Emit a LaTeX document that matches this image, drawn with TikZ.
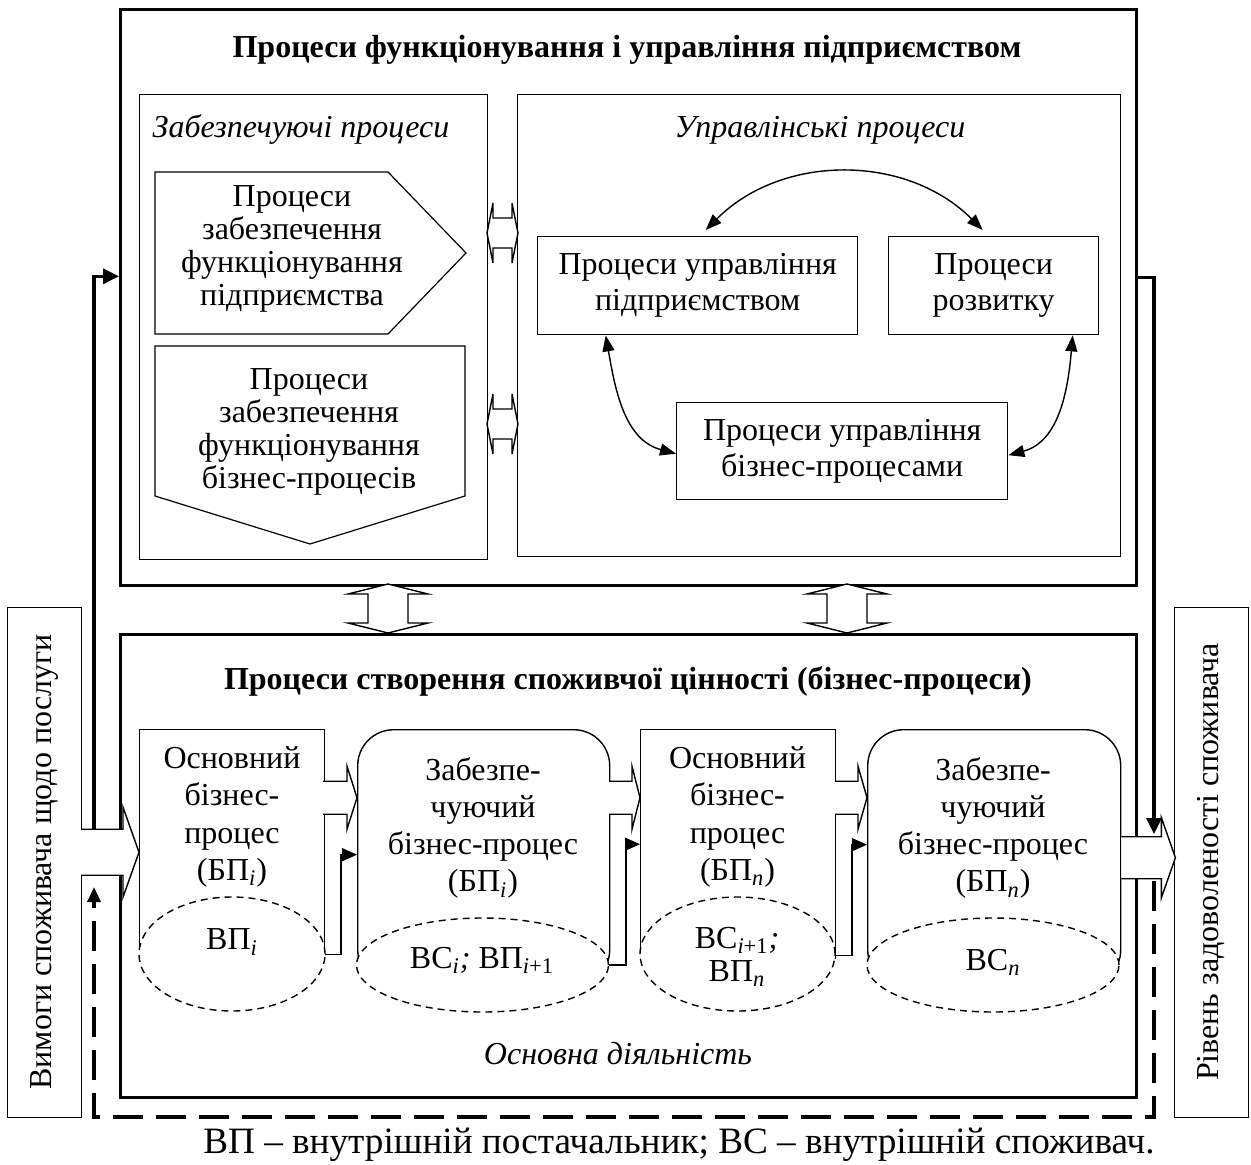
\documentclass[tikz,border=0pt]{standalone}
\usepackage{fontspec}
\setmainfont{Liberation Serif}
\usetikzlibrary{arrows.meta}
\usetikzlibrary{shapes.geometric}

\tikzset{
  outer/.style={draw,line width=1.3pt,inner sep=0pt,anchor=north west},
  pane/.style={draw,line width=.6pt,inner sep=0pt,anchor=north west},
  box/.style={draw,fill=white,line width=.7pt,inner sep=0pt,anchor=north west,
    align=center,font=\fontsize{16}{18}\selectfont},
  oval/.style={draw,fill=white,ellipse,dash pattern=on 3.5pt off 2.5pt,line width=.7pt,inner sep=0pt},
  shp/.style={draw,line width=.6pt},
  txt/.style={align=center,inner sep=0pt,font=\fontsize{16}{18.6}\selectfont},
  ttl/.style={inner sep=0pt,font=\fontsize{16}{19}\selectfont\bfseries},
  ital/.style={inner sep=0pt,font=\fontsize{16}{19}\selectfont\itshape},
  link/.style={line width=.7pt,-{Triangle[length=7.5pt,width=6.5pt]}},
  bidir/.style={line width=.7pt,{Triangle[length=8pt,width=6pt]}-{Triangle[length=8pt,width=6pt]}},
  thickln/.style={line width=1.6pt,-{Triangle[length=8pt,width=7.5pt]}},
  fb/.style={line width=1.6pt,dash pattern=on 15pt off 6.5pt,-{Triangle[length=7.5pt,width=6.5pt]}},
  pics/fat/.style n args={4}{code={
    \draw[fill=white,line width=.7pt] (-#1,-#4) -- (-#2,-#4) -- (-#2,-#3) -- (0,0)
      -- (-#2,#3) -- (-#2,#4) -- (-#1,#4);}},
  pics/dbl/.style n args={4}{code={
    \draw[fill=white,line width=.7pt] (-#1,0) -- (-#1+#2,#3) -- (-#1+#2,#4) -- (#1-#2,#4)
      -- (#1-#2,#3) -- (#1,0) -- (#1-#2,-#3) -- (#1-#2,-#4) -- (-#1+#2,-#4)
      -- (-#1+#2,-#3) -- cycle;}}
}

\begin{document}
\begin{tikzpicture}[x=.5pt,y=-.5pt]
    \useasboundingbox (0,0) rectangle (1251,1165);
    % upper block
    \node[outer,minimum width=508pt,minimum height=288pt] (top) at (119,8) {};
    \node[ttl] (topT) at (627,50) {Процеси функціонування і управління підприємством};
    \node[pane,minimum width=174pt,minimum height=232.5pt] (supp) at (139,94) {};
    \node[pane,minimum width=301.5pt,minimum height=231pt] (mgmt) at (517,94) {};
    \node[ital] (suppT) at (301,130) {Забезпечуючі процеси};
    \node[ital] (mgmtT) at (820,130) {Управлінські процеси};
    %%
    \draw[shp] (155,172) -- (388,172) -- (466,253) -- (388,334) -- (155,334) -- cycle;
    \node[txt,font=\fontsize{16}{16.6}\selectfont] (sA) at (292,249)
      {Процеси\\забезпечення\\функціонування\\підприємства};
    \draw[shp] (155,346) -- (465,346) -- (465,496) -- (310,544) -- (155,496) -- cycle;
    \node[txt,font=\fontsize{16}{16.6}\selectfont] (sB) at (309,432)
      {Процеси\\забезпечення\\функціонування\\бізнес-процесів};
    \pic at (502.5,233) {dbl={15.5}{6}{30}{15}};
    \pic at (502.5,424) {dbl={15.5}{6}{30}{15}};
    %%
    \node[box,minimum width=160pt,minimum height=49pt] (mE) at (537,236) {Процеси управління\\підприємством};
    \node[box,minimum width=105pt,minimum height=49pt] (mD) at (888,236) {Процеси\\розвитку};
    \node[box,minimum width=165.5pt,minimum height=48.5pt] (mB) at (676,402) {Процеси управління\\бізнес-процесами};
    \draw[bidir] ([xshift=4pt,yshift=3pt]mE.north) to[bend left=45] ([xshift=-5.5pt,yshift=3pt]mD.north);
    \draw[bidir] ([xshift=-46pt]mE.south) to[out=-80,in=165] ([yshift=-1.25pt]mB.west);
    \draw[bidir] ([xshift=39.5pt]mD.south) to[out=-95,in=15] ([yshift=-2pt]mB.east);
    %%
    % lower block
    \node[outer,minimum width=508pt,minimum height=231.5pt] (bot) at (119,633) {};
    \pic[rotate=90] at (388,608.5) {dbl={24.5}{10}{40}{20}};
    \pic[rotate=90] at (847,608.5) {dbl={24.5}{10}{40}{20}};
    \node[ttl] (botT) at (628,681) {Процеси створення споживчої цінності (бізнес-процеси)};
    \node[ital] (actT) at (618,1054) {Основна діяльність};
    %%
    \node[box,minimum width=92.5pt,minimum height=114.5pt] (p1) at (139,729) {};
    \node[box,rounded corners=18pt,minimum width=126pt,minimum height=128pt] (p2) at (357,729) {};
    \node[box,minimum width=97.5pt,minimum height=114.5pt] (p3) at (640,729) {};
    \node[box,rounded corners=18pt,minimum width=126.5pt,minimum height=128pt] (p4) at (867,729) {};
    \node[oval,minimum width=93pt,minimum height=57pt] (e1) at (232,954) {};
    \node[oval,minimum width=126pt,minimum height=47pt] (e2) at (482.5,965) {};
    \node[oval,minimum width=97.5pt,minimum height=57pt] (e3) at (737.5,954) {};
    \node[oval,minimum width=126pt,minimum height=47pt] (e4) at (993,965) {};
    \node[txt] (t1) at (232,817) {Основний\\бізнес-\\процес\\(БП\textsubscript{\textit{i}})};
    \node[txt] (t2) at (483,828) {Забезпе-\\чуючий\\бізнес-процес\\(БП\textsubscript{\textit{i}})};
    \node[txt] (t3) at (737.5,817) {Основний\\бізнес-\\процес\\(БП\textsubscript{\textit{n}})};
    \node[txt] (t4) at (993,828) {Забезпе-\\чуючий\\бізнес-процес\\(БП\textsubscript{\textit{n}})};
    \node[txt] (v1) at (232,942) {ВП\textsubscript{\textit{i}}};
    \node[txt] (v2) at (482,960) {ВС\textsubscript{\textit{i}}\textit{;} ВП\textsubscript{\textit{i}+1}};
    \node[txt,font=\fontsize{16}{16.5}\selectfont] (v3) at (737,957)
      {ВС\textsubscript{\textit{i}+1}\textit{;}\\ВП\textsubscript{\textit{n}}};
    \node[txt] (v4) at (993,962) {ВС\textsubscript{\textit{n}}};
    %%
    \draw[link] ([yshift=2.5pt]p1.south east) -| ([xshift=-8pt,yshift=1.5pt]p2.west) -- ([yshift=1.5pt]p2.west);
    \draw[link] (e2.east) -| ([xshift=-7pt]p3.west) -- (p3.west);
    \draw[link] ([yshift=2pt]p3.south east) -| ([xshift=-7.5pt,yshift=6.5pt]p4.west) -- ([yshift=6.5pt]p4.west);
    %%
    % customer side
    \node[pane,minimum width=37pt,minimum height=255pt] (req) at (7,607) {};
    \node[txt,rotate=90] (reqT) at (44,862) {Вимоги споживача щодо послуги};
    \node[pane,minimum width=37pt,minimum height=255pt] (sat) at (1174,607) {};
    \node[txt,rotate=90] (satT) at (1211,862) {Рівень задоволеності споживача};
    \pic at ([yshift=-4pt]p1.west) {fat={58}{16}{45}{23}};
    \pic at ([yshift=30pt]p2.west) {fat={34}{10}{31.5}{16.5}};
    \pic at ([yshift=23.25pt]p3.west) {fat={31}{8}{31.5}{16.5}};
    \pic at ([yshift=30pt]p4.west) {fat={32}{9}{31.5}{16.5}};
    \pic at ([xshift=27pt]p4.east) {fat={54}{14}{40}{21}};
    %%
    \coordinate (inL) at (94,829);
    \coordinate (outR) at (1154,834);
    \coordinate (fbR) at (1154,881);
    \coordinate (fbL) at (94,887);
    \draw[thickln] (inL) |- ([yshift=10.5pt]top.west);
    \draw[thickln] ([yshift=10pt]top.east) -| (outR);
    \draw[fb] (fbR) -- (1154,1117) -| (fbL);
    \node[font=\fontsize{18.6}{20}\selectfont,inner sep=0pt] (note) at (679,1145)
      {ВП – внутрішній постачальник; ВС – внутрішній споживач.};
\end{tikzpicture}
\end{document}
